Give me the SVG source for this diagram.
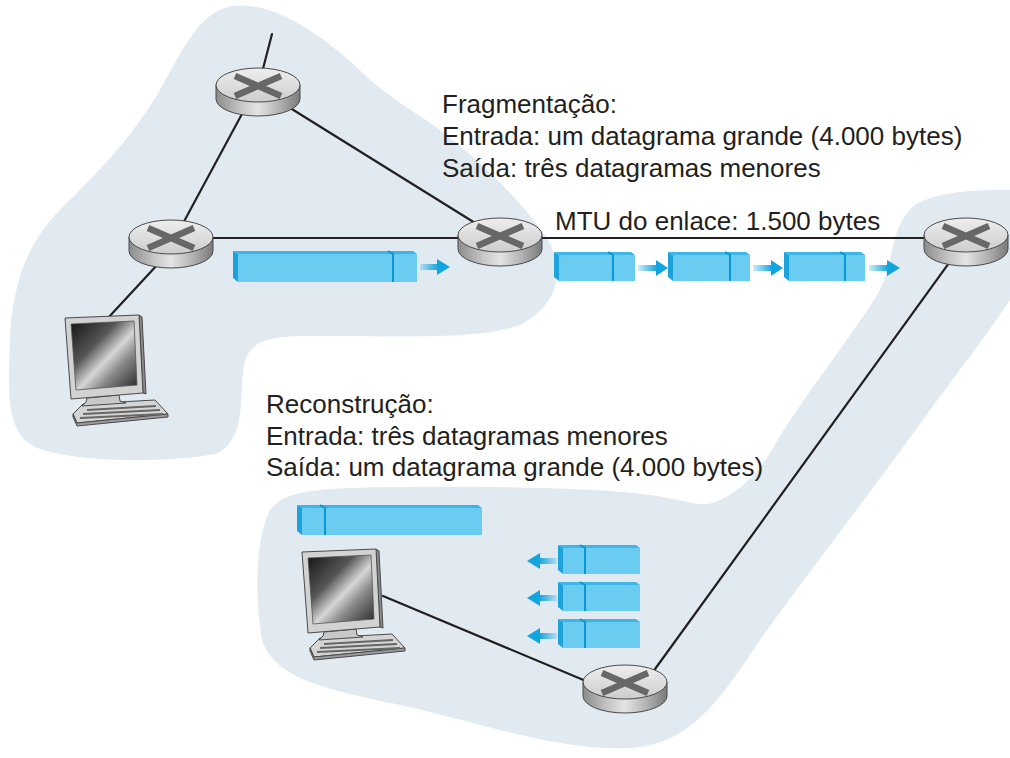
<svg xmlns="http://www.w3.org/2000/svg" xmlns:xlink="http://www.w3.org/1999/xlink" width="1010" height="758" viewBox="0 0 1010 758">
  <style>
    .cloud { fill: #e1eaf1; stroke: none; }
    .link { stroke: #231f20; stroke-width: 2.2; fill: none; stroke-linecap: round; }
    .lbl { font-family: "Liberation Sans", Arial, sans-serif; font-size: 26px; fill: #231f20; }
    .front { fill: #6bccf2; }
    .topf { fill: #3db5e7; }
    .side { fill: #1ea2db; }
    .div { stroke: #0a98d4; stroke-width: 2; fill: none; }
    .head { fill: #12a4df; }
    .edge { stroke: #4a4a4a; stroke-width: 1; }
  </style>
  <defs>
    <linearGradient id="rSide" x1="0" y1="0" x2="1" y2="0">
      <stop offset="0" stop-color="#8c8c8c"/>
      <stop offset="0.3" stop-color="#c6c6c6"/>
      <stop offset="0.5" stop-color="#e4e4e4"/>
      <stop offset="0.75" stop-color="#b3b3b3"/>
      <stop offset="1" stop-color="#7a7a7a"/>
    </linearGradient>
    <linearGradient id="rTop" x1="0" y1="0" x2="0" y2="1">
      <stop offset="0" stop-color="#eeeeee"/>
      <stop offset="1" stop-color="#cdcdcd"/>
    </linearGradient>
    <linearGradient id="screen" x1="0" y1="0" x2="1" y2="1">
      <stop offset="0" stop-color="#141414"/>
      <stop offset="0.35" stop-color="#555555"/>
      <stop offset="0.55" stop-color="#d6d6d6"/>
      <stop offset="0.7" stop-color="#8a8a8a"/>
      <stop offset="1" stop-color="#262626"/>
    </linearGradient>
    <linearGradient id="shaftR" x1="0" y1="0" x2="1" y2="0">
      <stop offset="0" stop-color="#12a4df" stop-opacity="0.2"/>
      <stop offset="1" stop-color="#12a4df"/>
    </linearGradient>
    <linearGradient id="shaftL" x1="1" y1="0" x2="0" y2="0">
      <stop offset="0" stop-color="#12a4df" stop-opacity="0.2"/>
      <stop offset="1" stop-color="#12a4df"/>
    </linearGradient>

    <!-- router: top ellipse centred on the origin -->
    <g id="router-shape">
      <path d="M-42,0 V14 A42,17 0 0 0 42,14 V0 Z" fill="url(#rSide)" class="edge"/>
      <ellipse cx="0" cy="0" rx="42" ry="17" fill="url(#rTop)" class="edge"/>
      <path d="M-23,-9 L23,11 M-23,11 L23,-9" stroke="#676767" stroke-width="6.5" fill="none"/>
    </g>

    <!-- desktop computer: origin at monitor top-left -->
    <g id="pc-shape">
      <polygon points="18,89 90,85 103,99 12,108 8,99" fill="#d4d4d4" class="edge"/>
      <polygon points="8,99 12,108 103,99 103,102 12,111 8,102" fill="#9a9a9a" class="edge"/>
      <path d="M22,95 L91,91 M18,99 L95,95 M15,103 L98,99" stroke="#666" stroke-width="1.8"/>
      <polygon points="22,83 54,80 55,86 61,88 17,91 21,87" fill="#c8c8c8" class="edge"/>
      <polygon points="74,0 77,2 81,79 78,78" fill="#8a8a8a" class="edge"/>
      <polygon points="0,3 74,0 78,78 6,84" fill="#d2d2d2" class="edge"/>
      <polygon points="6,9 69,6 72,70 11,75" fill="url(#screen)" stroke="#555" stroke-width="0.8"/>
    </g>
  </defs>

  <!-- network regions -->
  <path class="cloud" d="M232,6 C275,0 330,40 370,80 C400,105 425,118 440,130 C480,160 520,200 545,235 C565,265 562,302 522,324 C482,340 400,336 300,336 C255,337 246,348 243,372 C240,402 245,442 215,454 C160,464 70,462 35,447 C5,432 8,390 10,340 C12,280 30,240 60,210 C100,170 130,140 160,90 C185,45 200,12 232,6 Z"/>
  <path class="cloud" d="M1010,190 L1010,300 C990,330 960,370 930,410 C880,480 810,570 760,640 C720,700 690,745 630,748 C560,752 470,720 400,705 C330,690 275,680 262,640 C255,600 255,540 270,510 C285,488 330,488 400,487 C500,486 600,488 650,495 C690,500 700,510 720,500 C745,488 760,470 772,450 C800,400 850,340 880,290 C895,260 890,225 915,205 C940,190 980,190 1010,190 Z"/>

  <!-- links -->
  <g id="links">
    <line class="link" x1="272" y1="34" x2="258" y2="88"/>
    <line class="link" x1="256" y1="88" x2="174" y2="240"/>
    <line class="link" x1="258" y1="88" x2="496" y2="236"/>
    <line class="link" x1="171" y1="238" x2="500" y2="238"/>
    <line class="link" x1="500" y1="238" x2="966" y2="238"/>
    <line class="link" x1="171" y1="250" x2="108" y2="318"/>
    <line class="link" x1="962" y1="245" x2="650" y2="676"/>
    <line class="link" x1="383" y1="596" x2="605" y2="689"/>
  </g>

  <!-- routers -->
  <g id="router-a"><use xlink:href="#router-shape" transform="translate(258,85)"/></g>
  <g id="router-b"><use xlink:href="#router-shape" transform="translate(171,237)"/></g>
  <g id="router-c"><use xlink:href="#router-shape" transform="translate(500,235)"/></g>
  <g id="router-d"><use xlink:href="#router-shape" transform="translate(966,235)"/></g>
  <g id="router-e"><use xlink:href="#router-shape" transform="translate(625,682)"/></g>

  <!-- hosts -->
  <g id="host-source"><use xlink:href="#pc-shape" transform="translate(65,315)"/></g>
  <g id="host-dest"><use xlink:href="#pc-shape" transform="translate(302,549)"/></g>

  <!-- original datagram -->
  <g id="datagram-big">
    <polygon class="topf" points="233,251 413,251 417,254 238,254"/>
    <polygon class="side" points="233,251 238,254 238,282 233,278"/>
    <rect class="front" x="238" y="254" width="179" height="28"/>
    <path class="div" d="M388,251 L393,254 L393,282"/>
    <rect x="420" y="264" width="18" height="6" fill="url(#shaftR)"/>
    <polygon class="head" points="437,259 450,267 437,275"/>
  </g>

  <!-- fragments on the 1500-byte link -->
  <g id="fragments-link">
    <polygon class="topf" points="554,252 631,252 635,255 559,255"/>
    <polygon class="side" points="554,252 559,255 559,281 554,277"/>
    <rect class="front" x="559" y="255" width="76" height="26"/>
    <path class="div" d="M608,252 L613,255 L613,281"/>
    <rect x="638" y="265" width="19" height="6" fill="url(#shaftR)"/>
    <polygon class="head" points="656,260 668,268 656,276"/>

    <polygon class="topf" points="668,252 746,252 750,255 673,255"/>
    <polygon class="side" points="668,252 673,255 673,281 668,277"/>
    <rect class="front" x="673" y="255" width="77" height="26"/>
    <path class="div" d="M725,252 L730,255 L730,281"/>
    <rect x="753" y="265" width="19" height="6" fill="url(#shaftR)"/>
    <polygon class="head" points="771,260 783,268 771,276"/>

    <polygon class="topf" points="784,252 861,252 865,255 789,255"/>
    <polygon class="side" points="784,252 789,255 789,281 784,277"/>
    <rect class="front" x="789" y="255" width="76" height="26"/>
    <path class="div" d="M840,252 L845,255 L845,281"/>
    <rect x="869" y="265" width="19" height="6" fill="url(#shaftR)"/>
    <polygon class="head" points="887,260 900,268 887,276"/>
  </g>

  <!-- fragments arriving at the destination -->
  <g id="fragments-arrive">
    <polygon class="topf" points="558,545 636,545 640,548 563,548"/>
    <polygon class="side" points="558,545 563,548 563,574 558,570"/>
    <rect class="front" x="563" y="548" width="77" height="26"/>
    <path class="div" d="M580,545 L585,548 L585,574"/>
    <rect x="539" y="558" width="18" height="6" fill="url(#shaftL)"/>
    <polygon class="head" points="540,553 527,561 540,569"/>

    <polygon class="topf" points="558,582 636,582 640,585 563,585"/>
    <polygon class="side" points="558,582 563,585 563,611 558,607"/>
    <rect class="front" x="563" y="585" width="77" height="26"/>
    <path class="div" d="M580,582 L585,585 L585,611"/>
    <rect x="539" y="595" width="18" height="6" fill="url(#shaftL)"/>
    <polygon class="head" points="540,590 527,598 540,606"/>

    <polygon class="topf" points="558,619 636,619 640,622 563,622"/>
    <polygon class="side" points="558,619 563,622 563,648 558,644"/>
    <rect class="front" x="563" y="622" width="77" height="26"/>
    <path class="div" d="M580,619 L585,622 L585,648"/>
    <rect x="539" y="633" width="18" height="6" fill="url(#shaftL)"/>
    <polygon class="head" points="540,628 527,636 540,644"/>
  </g>

  <!-- reassembled datagram -->
  <g id="datagram-rebuilt">
    <polygon class="topf" points="297,505 478,505 482,508 302,508"/>
    <polygon class="side" points="297,505 302,508 302,535 297,531"/>
    <rect class="front" x="302" y="508" width="180" height="27"/>
    <path class="div" d="M320,505 L325,508 L325,535"/>
  </g>

  <!-- labels -->
  <g id="label-frag">
    <text class="lbl" x="442" y="113">Fragmentação:</text>
    <text class="lbl" x="442" y="145">Entrada: um datagrama grande (4.000 bytes)</text>
    <text class="lbl" x="442" y="177">Saída: três datagramas menores</text>
  </g>
  <g id="label-mtu">
    <text class="lbl" x="555" y="230">MTU do enlace: 1.500 bytes</text>
  </g>
  <g id="label-reasm">
    <text class="lbl" x="266" y="413">Reconstrução:</text>
    <text class="lbl" x="266" y="445">Entrada: três datagramas menores</text>
    <text class="lbl" x="266" y="476">Saída: um datagrama grande (4.000 bytes)</text>
  </g>
</svg>
